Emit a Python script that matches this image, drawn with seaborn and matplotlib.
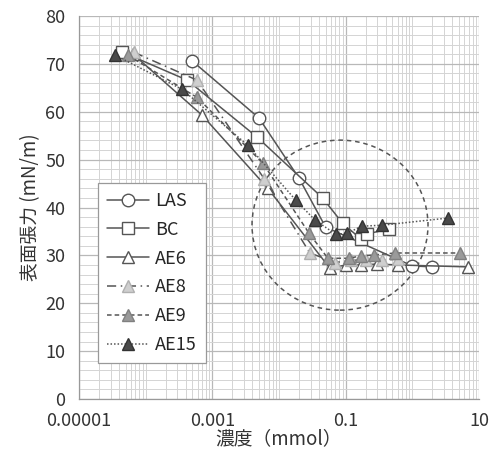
import numpy as np
import pandas as pd
import seaborn as sns
import matplotlib.pyplot as plt
from matplotlib.ticker import LogLocator, FixedLocator, MultipleLocator, NullFormatter
from matplotlib.patches import Ellipse

# surface tension vs concentration
las_x = [0.0005, 0.005, 0.02, 0.05, 1.0, 2.0]
las_y = [70.6, 58.7, 46.1, 35.9, 27.8, 27.6]

bc_x = [4.4e-5, 0.00042, 0.0047, 0.045, 0.09, 0.17, 0.21, 0.45]
bc_y = [72.5, 66.6, 54.7, 42.0, 36.7, 33.4, 34.5, 35.5]

ae6_x = [6.5e-5, 0.0007, 0.0068, 0.058, 0.1, 0.17, 0.3, 0.6, 6.8]
ae6_y = [72.0, 59.3, 44.0, 27.3, 28.0, 28.0, 28.2, 28.0, 27.6]

ae8_x = [6.7e-5, 0.00059, 0.006, 0.029, 0.07, 0.12, 0.2, 0.35, 0.6]
ae8_y = [72.4, 66.6, 46.0, 30.5, 28.5, 29.0, 29.0, 29.0, 29.2]

ae9_x = [5.4e-5, 0.00059, 0.0057, 0.028, 0.054, 0.112, 0.17, 0.27, 0.55, 5.15]
ae9_y = [71.8, 63.0, 49.3, 34.7, 29.4, 29.4, 29.9, 30.1, 30.5, 30.5]

ae15_x = [3.5e-5, 0.00035, 0.0034, 0.0179, 0.0345, 0.0713, 0.104, 0.175, 0.35, 3.4]
ae15_y = [71.8, 64.7, 53.0, 41.5, 37.4, 34.4, 34.6, 36.1, 36.3, 37.8]

series = [
    ("LAS", las_x, las_y, "o", "white", "#555555", "-"),
    ("BC", bc_x, bc_y, "s", "white", "#555555", "-"),
    ("AE6", ae6_x, ae6_y, "^", "white", "#555555", "-"),
    ("AE8", ae8_x, ae8_y, "^", "#cfcfcf", "#b0b0b0", (0, (6, 3, 1, 3))),
    ("AE9", ae9_x, ae9_y, "^", "#9a9a9a", "#808080", (0, (3, 2))),
    ("AE15", ae15_x, ae15_y, "^", "#4a4a4a", "#333333", (0, (1, 1.3))),
]

sns.set_style("white")
plt.rcParams['font.family'] = ['Noto Sans CJK JP', 'DejaVu Sans']

fig = plt.figure(figsize=(4.92, 4.67), dpi=100)
ax = fig.add_axes([0.1606, 0.1456, 0.813, 0.8201])

for name, xs, ys, mk, fc, ec, ls in series:
    df = pd.DataFrame({"x": xs, "y": ys})
    sns.lineplot(data=df, x="x", y="y", ax=ax, label=name, color="#555555",
                 linestyle=ls, linewidth=1.1, marker=mk, markersize=9,
                 markerfacecolor=fc, markeredgecolor=ec, markeredgewidth=1.0)

ax.set_xscale("log")
ax.set_xlim(1e-5, 10)
ax.set_ylim(0, 80)

ax.xaxis.set_major_locator(FixedLocator([1e-5, 1e-3, 1e-1, 10]))
ax.set_xticklabels(["0.00001", "0.001", "0.1", "10"])
ax.xaxis.set_minor_locator(LogLocator(base=10, subs=np.arange(1, 10), numticks=100))
ax.xaxis.set_minor_formatter(NullFormatter())
ax.yaxis.set_major_locator(MultipleLocator(10))
ax.yaxis.set_minor_locator(MultipleLocator(2))

ax.grid(which="major", color="#b8b8b8", linewidth=0.9)
ax.grid(which="minor", color="#d4d4d4", linewidth=0.7)
ax.set_axisbelow(True)

ax.tick_params(axis="both", which="major", labelsize=13, colors="#333333",
               length=5, width=0.8, color="#999999", direction="out")
ax.tick_params(axis="both", which="minor", length=0)
ax.tick_params(axis="x", pad=4)
ax.tick_params(axis="y", pad=5)

for s in ["top", "right"]:
    ax.spines[s].set_visible(False)
for s in ["left", "bottom"]:
    ax.spines[s].set_color("#999999")
    ax.spines[s].set_linewidth(0.9)

ax.set_xlabel("濃度（mmol）", fontsize=13.5, color="#333333", labelpad=-1)
ax.set_ylabel("表面張力 (mN/m)", fontsize=13.5, color="#333333", labelpad=3)

circ = Ellipse((0.6525, 0.454), 0.44, 0.444, transform=ax.transAxes, fill=False,
               edgecolor="#555555", linestyle=(0, (3, 2.5)), linewidth=1.1)
ax.add_patch(circ)

leg = ax.legend(loc="lower left", bbox_to_anchor=(0.025, 0.07), fontsize=13,
                frameon=True, fancybox=False, edgecolor="#999999",
                framealpha=1, handlelength=2.3, labelspacing=0.6,
                borderpad=0.5, handletextpad=0.35)
leg.get_frame().set_linewidth(0.9)

fig.savefig("out.png", dpi=100)
